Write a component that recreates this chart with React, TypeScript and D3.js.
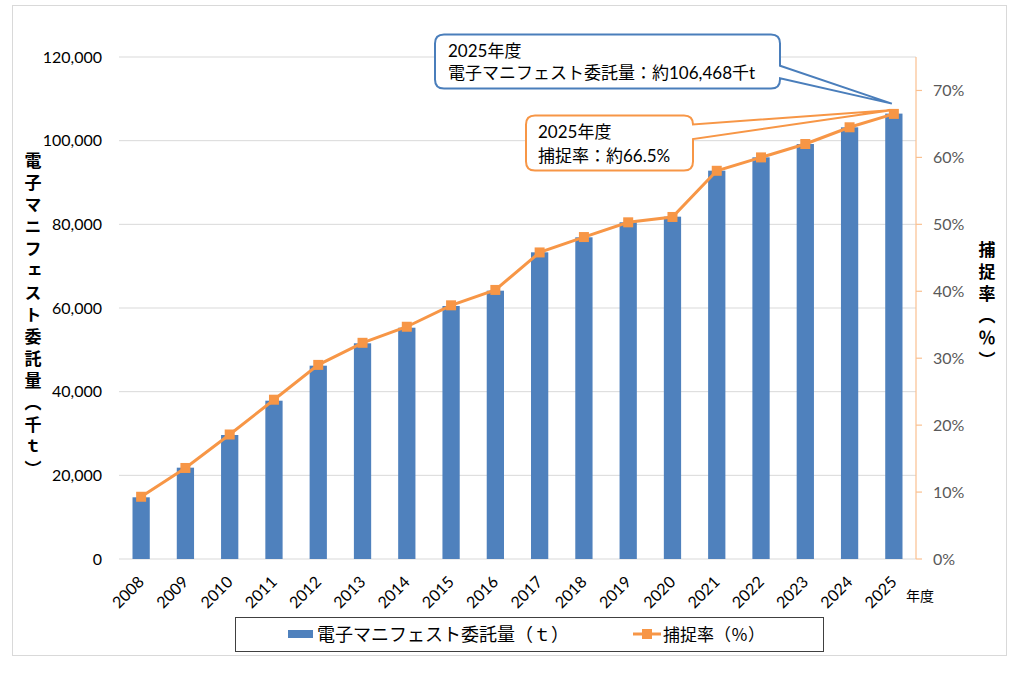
import React from 'react';
import * as d3 from 'd3';

const years = ['2008', '2009', '2010', '2011', '2012', '2013', '2014', '2015', '2016',
  '2017', '2018', '2019', '2020', '2021', '2022', '2023', '2024', '2025'];
// 電子マニフェスト委託量（千t）
const volume = [14750, 21830, 29640, 37840, 46210, 51560, 55290, 60480, 64140,
  73310, 76900, 80490, 81830, 92830, 96020, 99200, 103190, 106468];
// 捕捉率（%）
const rate = [9.3, 13.6, 18.6, 23.8, 29.0, 32.3, 34.7, 37.9, 40.2,
  45.8, 48.1, 50.3, 51.1, 58.0, 60.0, 62.0, 64.5, 66.5];
const volumeTicks = [0, 20000, 40000, 60000, 80000, 100000, 120000];
const rateTicks = [0, 10, 20, 30, 40, 50, 60, 70];

const LATIN = "Lato, 'Noto Sans CJK JP', sans-serif";
const CJK = "'Noto Sans CJK JP', sans-serif";
const BLUE = '#4f81bd';
const ORANGE = '#f79646';

const left = 119, right = 916, top = 57, bottom = 559;

function calloutPath(x: number, y: number, w: number, h: number, r: number,
  a: number, b: number, tx: number, ty: number) {
  return `M${x + r},${y} H${x + w - r} Q${x + w},${y} ${x + w},${y + r} V${a} L${tx},${ty} L${x + w},${b} ` +
    `V${y + h - r} Q${x + w},${y + h} ${x + w - r},${y + h} H${x + r} Q${x},${y + h} ${x},${y + h - r} ` +
    `V${y + r} Q${x},${y} ${x + r},${y} Z`;
}

const vertical: React.CSSProperties = { writingMode: 'vertical-rl' as any };

const App: React.FC = () => {
  const x = d3.scaleBand<string>().domain(years).range([left, right])
    .paddingInner(0.61).paddingOuter(0.305);
  const yV = d3.scaleLinear().domain([0, 120000]).range([bottom, top]);
  const yR = d3.scaleLinear().domain([0, 75]).range([bottom, top]);
  const cx = (d: string) => (x(d) ?? 0) + x.bandwidth() / 2;
  const fmt = d3.format(',');

  const line = d3.line<number>()
    .x((_, i) => cx(years[i]))
    .y(d => yR(d));

  const last = years[years.length - 1];
  const tipX = cx(last);

  return (
    <svg width={1024} height={673} style={{ position: 'absolute', left: 0, top: 0 }}>
      <rect x={0} y={0} width={1024} height={673} fill="#fff" />
      <rect x={12.5} y={5.5} width={994} height={650} fill="#fff" stroke="#d9d9d9" />

      {/* gridlines */}
      {volumeTicks.map(t => (
        <line key={t} x1={left} x2={right} y1={yV(t)} y2={yV(t)} stroke="#d9d9d9" strokeWidth={1} />
      ))}

      {/* left ticks */}
      {volumeTicks.map(t => (
        <text key={t} x={102} y={yV(t)} dy="0.35em" textAnchor="end" fontFamily={LATIN}
          fontSize={16} fill="#000">{fmt(t)}</text>
      ))}

      {/* right axis */}
      <line x1={right} x2={right} y1={top} y2={bottom} stroke="#fac090" strokeWidth={1.2} />
      {rateTicks.map(t => (
        <g key={t}>
          <line x1={right} x2={right + 6} y1={yR(t)} y2={yR(t)} stroke="#fac090" strokeWidth={1.2} />
          <text x={933} y={yR(t)} dy="0.35em" fontFamily={LATIN} fontSize={16} fill="#595959">{t}%</text>
        </g>
      ))}

      {/* bars */}
      {years.map((yr, i) => (
        <rect key={yr} x={x(yr)} y={yV(volume[i])} width={x.bandwidth()}
          height={bottom - yV(volume[i])} fill={BLUE} />
      ))}

      {/* rate line */}
      <path d={line(rate) ?? ''} fill="none" stroke={ORANGE} strokeWidth={3} />
      {years.map((yr, i) => (
        <rect key={yr} x={cx(yr) - 5} y={yR(rate[i]) - 5} width={10} height={10} fill={ORANGE} />
      ))}

      {/* x labels */}
      {years.map(yr => (
        <text key={yr} transform={`translate(${cx(yr) + 4},${583}) rotate(-45)`} textAnchor="end"
          fontFamily={LATIN} fontSize={16} fill="#000">{yr}</text>
      ))}
      <text x={906} y={601} fontFamily={CJK} fontSize={14} fill="#000">年度</text>

      {/* axis titles */}
      <text x={33} y={152} style={vertical} fontFamily={CJK} fontSize={17} fontWeight="bold"
        letterSpacing={5} fill="#000">電子マニフェスト委託量（千ｔ）</text>
      <text x={987} y={241} style={vertical} fontFamily={CJK} fontSize={17} fontWeight="bold"
        letterSpacing={5} fill="#000">捕捉率（％）</text>

      {/* callouts */}
      <path d={calloutPath(435, 34.5, 345, 54, 9, 65.7, 78.3, tipX - 2, yV(volume[volume.length - 1]) - 10)}
        fill="#fff" stroke="#4a7ebb" strokeWidth={2} />
      <text fontFamily={LATIN} fontSize={17} fill="#000">
        <tspan x={448} y={57}>2025年度</tspan>
        <tspan x={448} y={78.5}>電子マニフェスト委託量：約106,468千t</tspan>
      </text>

      <path d={calloutPath(526, 115.5, 167, 55, 9, 124.5, 139, tipX - 1, yR(rate[rate.length - 1]) - 4)}
        fill="#fff" stroke={ORANGE} strokeWidth={2} />
      <text fontFamily={LATIN} fontSize={17} fill="#000">
        <tspan x={538} y={138}>2025年度</tspan>
        <tspan x={538} y={162}>捕捉率：約66.5%</tspan>
      </text>

      {/* legend */}
      <rect x={235.5} y={617.5} width={588} height={34} fill="#fff" stroke="#404040" strokeWidth={1} />
      <rect x={288} y={630} width={25} height={8} fill={BLUE} />
      <text x={317} y={641} fontFamily={CJK} fontSize={18} fill="#000">電子マニフェスト委託量（ｔ）</text>
      <line x1={633} x2={661} y1={634} y2={634} stroke={ORANGE} strokeWidth={3} />
      <rect x={642} y={629} width={10} height={10} fill={ORANGE} />
      <text x={663} y={641} fontFamily={CJK} fontSize={17} fill="#000">捕捉率（％）</text>
    </svg>
  );
};

export default App;
